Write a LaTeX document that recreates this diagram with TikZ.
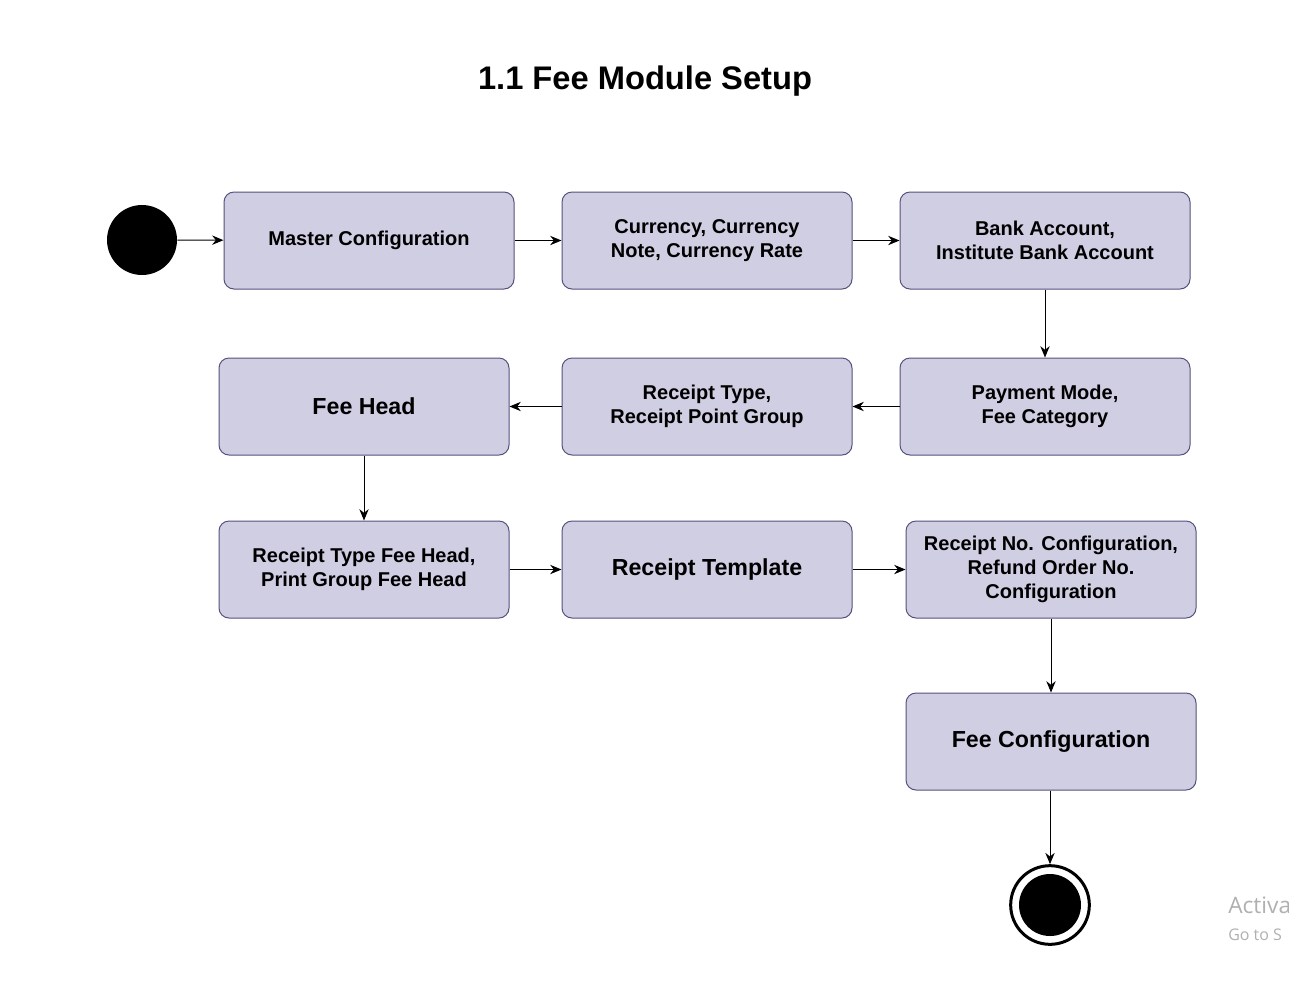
\documentclass[tikz,border=0pt]{standalone}
\usepackage{fontspec}
\setmainfont{Liberation Sans}
\newfontfamily\markfont{Open Sans}
\usetikzlibrary{arrows.meta}
\definecolor{boxfill}{HTML}{D0CEE2}
\definecolor{boxline}{HTML}{56517E}
\definecolor{markgray}{HTML}{B0B0B0}

\begin{document}
\begin{tikzpicture}[x=0.75pt,y=-0.75pt,
    stagebox/.style={draw=boxline, fill=boxfill, line width=0.75pt, rounded corners=7.5pt,
      minimum width=217.5pt, minimum height=72.75pt, align=center,
      font=\bfseries\fontsize{15}{18}\selectfont},
    bigtext/.style={font=\bfseries\fontsize{17.4}{20}\selectfont},
    flow/.style={-{Stealth[length=8.5pt,width=7pt]}, line width=0.75pt}]
			%%%%% START %%%%%
			\clip (0,0) rectangle (1289,997);
			\fill[white] (0,0) rectangle (1289,997);
			
			\node[font=\bfseries\fontsize{24.5}{28}\selectfont] (title) at (645, 81) {1.1 Fee Module Setup};
			
			\node[circle, fill=black, minimum size=52.5pt, inner sep=0pt] (start) at (142, 240) {};
			
			\node[stagebox] (master) at (369, 240.5) {Master Configuration};
			\node[stagebox] (currency) at (707, 240.5) {Currency, Currency\\Note, Currency Rate};
			\node[stagebox] (bank) at (1045, 240.5) {Bank Account,\\Institute Bank Account};
			
			\node[stagebox] (payment) at (1045, 406.5) {Payment Mode,\\Fee Category};
			\node[stagebox] (rtype) at (707, 406.5) {Receipt Type,\\Receipt Point Group};
			\node[stagebox, bigtext] (feehead) at (364, 406.5) {Fee Head};
			
			\node[stagebox] (typehead) at (364, 569.5) {Receipt Type Fee Head,\\Print Group Fee Head};
			\node[stagebox, bigtext] (template) at (707, 569.5) {Receipt Template};
			\node[stagebox] (receiptno) at (1051, 569.5) {Receipt No. Configuration,\\Refund Order No.\\Configuration};
			
			\node[stagebox, bigtext] (feeconf) at (1051, 741.5) {Fee Configuration};
			
			\node[circle, draw=black, line width=2.25pt, fill=white, minimum size=59pt, inner sep=0pt] (finish) at (1050, 905) {};
			\fill[black] (finish.center) circle (31);
			
			\draw[flow] (start) -- (master);
			\draw[flow] (master) -- (currency);
			\draw[flow] (currency) -- (bank);
			\draw[flow] (bank) -- (payment);
			\draw[flow] (payment) -- (rtype);
			\draw[flow] (rtype) -- (feehead);
			\draw[flow] (feehead) -- (typehead);
			\draw[flow] (typehead) -- (template);
			\draw[flow] (template) -- (receiptno);
			\draw[flow] (receiptno.south -| feeconf.north) -- (feeconf.north);
			\draw[flow] (feeconf.south -| finish.north) -- (finish.north);
			
			\node[anchor=base west, inner sep=0pt, text=markgray, font=\markfont\fontsize{17}{20}\selectfont] (markone) at (1228, 913) {Activa};
			\node[anchor=base west, inner sep=0pt, text=markgray, font=\markfont\fontsize{12}{15}\selectfont] (marktwo) at (1228, 940) {Go to S};
			%%%%% END %%%%%
\end{tikzpicture}
\end{document}
